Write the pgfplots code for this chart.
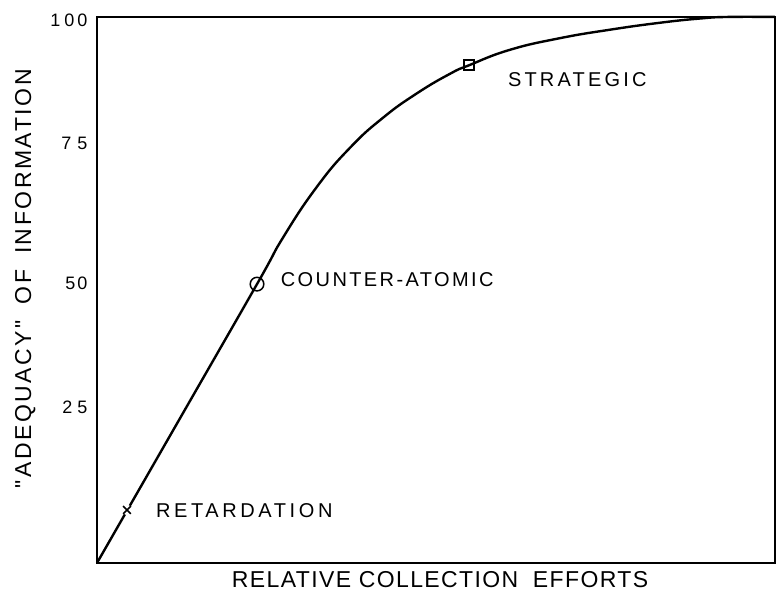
\documentclass[border=0pt]{standalone}
\usepackage{pgfplots}
\pgfplotsset{compat=1.18}
\usepackage{fontspec}
\setmainfont{Liberation Sans}
\newfontfamily\lbl{Liberation Sans}
\begin{document}
\begin{tikzpicture}
\begin{axis}[
  scale only axis,
  width=678pt, height=546pt,
  xmin=0, xmax=100, ymin=-3, ymax=100,
  axis line style={line width=1.6pt},
  xtick=\empty,
  ytick={26.3,49.8,76.2,99.4},
  yticklabels={{2\hspace{5pt}5},{5\hspace{2pt}0},{7\hspace{6pt}5},{1\hspace{4pt}0\hspace{3pt}0}},
  major tick length=0pt,
  yticklabel style={font=\fontsize{18}{18}\selectfont, anchor=east, xshift=-6pt},
  /pgf/number format/assume math mode=true,
  clip=false,
]
\path (axis cs:-14.31,-12.62) rectangle (axis cs:100.3,103.2);
\addplot[line width=2.4pt, smooth, tension=0.8] coordinates {
  (0,-3) (11.8,23.3) (23.6,49.6) (27.4,58.3) (32.4,67.9) (37.3,75.3)
  (42.2,81.0) (47.2,85.6) (52.1,89.3) (54.9,90.9) (60.9,93.8)
  (68.3,96.0) (75.7,97.6) (83.0,98.9) (88.9,99.7) (93,100) (100,100)
};
\addplot[only marks, mark=*, mark size=5pt, fill=white, draw=white] coordinates {(4.42,7.0)};
\addplot[only marks, mark=x, mark size=5.5pt, line width=1.6pt, black] coordinates {(4.42,7.0)};
\addplot[only marks, mark=o, mark size=6.8pt, line width=1.5pt, black, mark options={fill=white}] coordinates {(23.6,49.6)};
\addplot[only marks, mark=square, mark size=5pt, line width=1.5pt, black, mark options={fill=white}] coordinates {(54.9,90.9)};
\node[anchor=west, font=\fontsize{20}{20}\selectfont\lbl\addfontfeature{LetterSpace=18}] at (axis cs:8.2,6.9) {RETARDATION};
\node[anchor=west, font=\fontsize{20}{20}\selectfont\lbl\addfontfeature{LetterSpace=12}] at (axis cs:26.6,50.4) {COUNTER-ATOMIC};
\node[anchor=west, font=\fontsize{20}{20}\selectfont\lbl\addfontfeature{LetterSpace=16}] at (axis cs:60.1,88.1) {STRATEGIC};
\node[font=\fontsize{23}{23}\selectfont\lbl\addfontfeature{LetterSpace=6}] at (axis cs:50.6,-6.2) {RELATIVE COLLECTION\hspace{0.3em} EFFORTS};
\node[rotate=90, font=\fontsize{23}{23}\selectfont\lbl\addfontfeature{LetterSpace=11}] at (axis cs:-10.6,50.6) {"ADEQUACY"\hspace{0.3em} OF\hspace{0.3em} INFORMATION};
\end{axis}
\end{tikzpicture}
\end{document}
